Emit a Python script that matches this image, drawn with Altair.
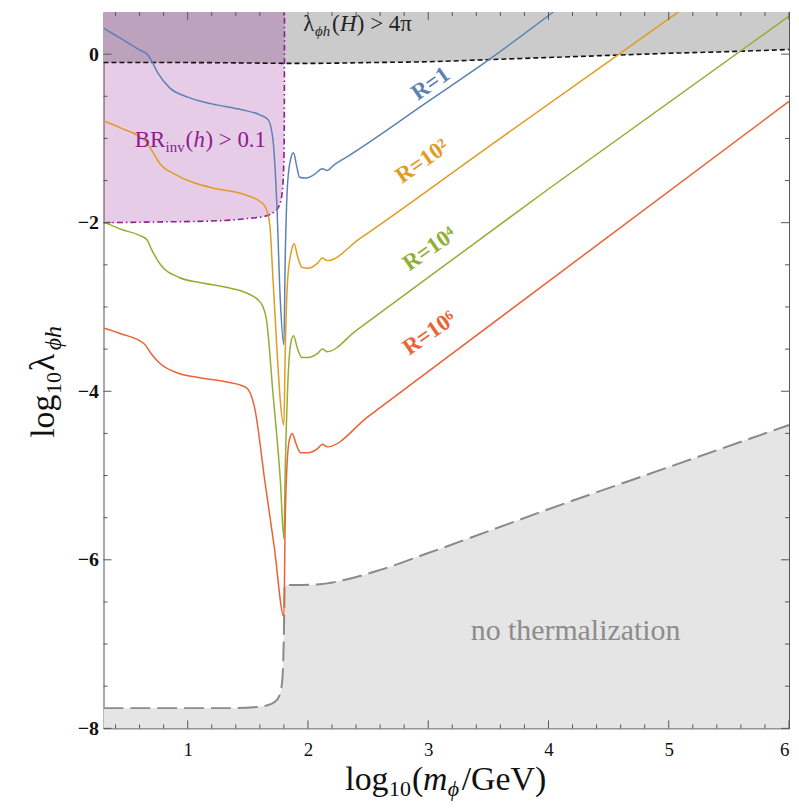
import altair as alt
import pandas as pd

# ---------------- data ----------------
blue_x = [0.30, 0.45, 0.60, 0.67, 0.70, 0.75, 0.85, 1.00, 1.20, 1.45, 1.60, 1.67, 1.71, 1.74, 1.77, 1.80,
          1.81, 1.83, 1.855, 1.88, 1.905, 1.93, 1.98, 2.05, 2.12, 2.16, 2.22, 2.30, 3.00, 3.52, 4.04]
blue_y = [0.31, 0.18, 0.05, -0.01, -0.08, -0.22, -0.40, -0.51, -0.59, -0.66, -0.72, -0.78, -1.03, -1.74, -2.92, -3.45,
          -2.50, -1.55, -1.25, -1.17, -1.32, -1.46, -1.47, -1.43, -1.36, -1.38, -1.31, -1.24, -0.56, -0.05, 0.50]

orange_x = [0.30, 0.45, 0.60, 0.66, 0.70, 0.77, 0.90, 1.04, 1.25, 1.46, 1.58, 1.64, 1.66, 1.685, 1.71, 1.80,
            1.81, 1.83, 1.86, 1.885, 1.91, 1.95, 2.00, 2.08, 2.12, 2.16, 2.43, 3.50, 5.08]
orange_y = [-0.79, -0.88, -0.98, -1.05, -1.14, -1.30, -1.43, -1.52, -1.60, -1.66, -1.73, -1.80, -1.86, -2.06, -2.69, -4.40,
            -3.60, -2.70, -2.35, -2.25, -2.38, -2.53, -2.54, -2.48, -2.42, -2.45, -2.19, -1.10, 0.50]

green_x = [0.30, 0.45, 0.60, 0.66, 0.70, 0.77, 0.93, 1.10, 1.33, 1.50, 1.58, 1.62, 1.655, 1.68, 1.70, 1.77, 1.80,
           1.81, 1.83, 1.855, 1.88, 1.91, 1.95, 2.00, 2.08, 2.12, 2.16, 2.40, 4.00, 6.00]
green_y = [-1.99, -2.08, -2.15, -2.20, -2.32, -2.49, -2.65, -2.71, -2.77, -2.84, -2.91, -2.98, -3.15, -3.50, -3.87, -5.05, -5.75,
           -5.00, -4.00, -3.45, -3.34, -3.48, -3.60, -3.60, -3.55, -3.50, -3.53, -3.28, -1.60, 0.45]

red_x = [0.30, 0.45, 0.60, 0.64, 0.70, 0.77, 0.93, 1.10, 1.33, 1.48, 1.52, 1.56, 1.64, 1.72, 1.80,
         1.81, 1.825, 1.845, 1.87, 1.90, 1.94, 2.00, 2.08, 2.12, 2.16, 2.50, 6.00]
red_y = [-3.25, -3.32, -3.40, -3.44, -3.56, -3.67, -3.79, -3.84, -3.89, -3.95, -4.02, -4.22, -5.05, -5.85, -6.67,
         -5.60, -4.90, -4.58, -4.50, -4.62, -4.73, -4.73, -4.68, -4.63, -4.66, -4.30, -0.56]

# perturbativity bound  lambda(H) > 4 pi
pert_x = [0.30, 1.00, 2.00, 2.50, 3.00, 3.50, 4.00, 4.50, 5.00, 5.50, 6.00]
pert_y = [-0.10, -0.10, -0.11, -0.10, -0.09, -0.065, -0.04, -0.015, 0.01, 0.03, 0.055]

# invisible Higgs width bound  BR_inv(h) > 0.1
brinv_x = [0.30, 0.80, 1.20, 1.50, 1.65, 1.72, 1.76, 1.785, 1.798, 1.803, 1.805]
brinv_y = [-2.00, -1.99, -1.98, -1.95, -1.92, -1.87, -1.80, -1.65, -1.35, -0.90, 0.50]

# thermalization bound
therm_x = [0.30, 1.00, 1.40, 1.55, 1.65, 1.72, 1.76, 1.785, 1.798, 1.803, 1.806, 1.90, 2.10, 2.30, 2.60, 3.00, 4.00, 5.00, 6.00]
therm_y = [-7.76, -7.76, -7.76, -7.75, -7.73, -7.69, -7.62, -7.45, -7.00, -6.60, -6.30, -6.30, -6.29, -6.24, -6.12, -5.92, -5.40, -4.90, -4.40]

series_names = ["R=1", "R=10^2", "R=10^4", "R=10^6"]
series_colors = ["#5e81b5", "#e19c24", "#8fb032", "#eb6235"]

x_major = [1, 2, 3, 4, 5, 6]
x_minor = [0.4, 0.6, 0.8, 1.2, 1.4, 1.6, 1.8, 2.2, 2.4, 2.6, 2.8, 3.2, 3.4, 3.6, 3.8,
           4.2, 4.4, 4.6, 4.8, 5.2, 5.4, 5.6, 5.8]
y_major = [-8, -6, -4, -2, 0]
y_minor = [-7.5, -7, -6.5, -5.5, -5, -4.5, -3.5, -3, -2.5, -1.5, -1, -0.5]

XMIN, XMAX, YMIN, YMAX = 0.3, 6.0, -8.0, 0.5

# ---------------- build tables ----------------
rows = []
for name, xs_, ys_ in zip(series_names, [blue_x, orange_x, green_x, red_x], [blue_y, orange_y, green_y, red_y]):
    for i, (a, b) in enumerate(zip(xs_, ys_)):
        rows.append({"series": name, "x": a, "y": b, "i": i})
curves = pd.DataFrame(rows)
pert = pd.DataFrame({"x": pert_x, "y": pert_y, "edge": [YMAX] * len(pert_x), "i": range(len(pert_x))})
brinv = pd.DataFrame({"x": brinv_x, "y": brinv_y, "edge": [YMAX] * len(brinv_x), "i": range(len(brinv_x))})
therm = pd.DataFrame({"x": therm_x, "y": therm_y, "edge": [YMIN] * len(therm_x), "i": range(len(therm_x))})

W, H = 689, 720
SERIF = "Liberation Serif"

xs = alt.Scale(domain=[XMIN, XMAX], nice=False, zero=False)
ys = alt.Scale(domain=[YMIN, YMAX], nice=False, zero=False)

X = alt.X("x:Q", scale=xs, axis=alt.Axis(values=x_major, format="d", title=None,
                                           labelFont=SERIF, labelFontSize=19, labelColor="#111",
                                           labelPadding=12, labelBaseline="top"))
Y = alt.Y("y:Q", scale=ys, axis=alt.Axis(values=y_major, format="d", title=None,
                                           labelFont=SERIF, labelFontSize=20, labelFontWeight="bold",
                                           labelColor="#111", labelPadding=5))

XP = alt.X("x:Q", scale=xs)
YP = alt.Y("y:Q", scale=ys)

pert_area = alt.Chart(pert).mark_area(color="#cbcbcb", opacity=1, interpolate="monotone", clip=True).encode(
    x=X, y=Y, y2=alt.Y2("edge:Q"))
therm_area = alt.Chart(therm).mark_area(color="#e5e5e5", opacity=1, interpolate="monotone", clip=True).encode(
    x=XP, y=YP, y2=alt.Y2("edge:Q"))
brinv_area = alt.Chart(brinv).mark_area(color="#800080", opacity=0.2, interpolate="monotone", clip=True).encode(
    x=XP, y=YP, y2=alt.Y2("edge:Q"))

pert_line = alt.Chart(pert).mark_line(color="#111", strokeWidth=1.6, strokeDash=[5, 3],
                                      interpolate="monotone", clip=True).encode(x=XP, y=YP, order="i:Q")
therm_line = alt.Chart(therm).mark_line(color="#8a8a8a", strokeWidth=2, strokeDash=[20, 7],
                                        interpolate="monotone", clip=True).encode(x=XP, y=YP, order="i:Q")
brinv_line = alt.Chart(brinv).mark_line(color="#8e1a8e", strokeWidth=1.6, strokeDash=[6, 3, 1.5, 3],
                                        interpolate="monotone", clip=True).encode(x=XP, y=YP, order="i:Q")

curve_lines = alt.Chart(curves).mark_line(strokeWidth=1.5, interpolate="monotone", clip=True).encode(
    x=XP, y=YP,
    color=alt.Color("series:N", scale=alt.Scale(domain=series_names, range=series_colors), legend=None),
    order="i:Q")

# inward frame ticks
def xticks(vals, length):
    d = pd.DataFrame({"v": vals})
    bot = alt.Chart(d).mark_rule(color="#555", strokeWidth=1).encode(
        x=alt.X("v:Q", scale=xs), y=alt.value(H), y2=alt.value(H - length))
    top = alt.Chart(d).mark_rule(color="#555", strokeWidth=1).encode(
        x=alt.X("v:Q", scale=xs), y=alt.value(0), y2=alt.value(length))
    return bot + top

def yticks(vals, length):
    d = pd.DataFrame({"v": vals})
    left = alt.Chart(d).mark_rule(color="#555", strokeWidth=1).encode(
        y=alt.Y("v:Q", scale=ys), x=alt.value(0), x2=alt.value(length))
    right = alt.Chart(d).mark_rule(color="#555", strokeWidth=1).encode(
        y=alt.Y("v:Q", scale=ys), x=alt.value(W), x2=alt.value(W - length))
    return left + right

ticks = xticks(x_major, 8) + xticks(x_minor, 4) + yticks(y_major, 8) + yticks(y_minor, 4)

# text pieces anchored at a data point, offset in pixels along the text direction
def pieces(x, y, parts, color, angle=0):
    layers = []
    for text, size, dx, dy, style, weight in parts:
        d = pd.DataFrame({"x": [x], "y": [y], "t": [text]})
        kw = dict(font=SERIF, fontSize=size, dx=dx, dy=dy, color=color, align="left",
                  baseline="alphabetic", fontStyle=style, fontWeight=weight)
        if angle:
            kw["angle"] = angle
        layers.append(alt.Chart(d).mark_text(**kw).encode(x=XP, y=YP, text="t:N"))
    return alt.layer(*layers)

# same, but anchored at a pixel position (axis titles outside the frame)
def title_pieces(px, py, parts, angle=0):
    layers = []
    for text, size, dx, dy, style, weight in parts:
        d = pd.DataFrame({"t": [text]})
        kw = dict(font=SERIF, fontSize=size, dx=dx, dy=dy, color="#111", align="left",
                  baseline="alphabetic", fontStyle=style, fontWeight=weight)
        if angle:
            kw["angle"] = angle
        layers.append(alt.Chart(d).mark_text(**kw).encode(x=alt.value(px), y=alt.value(py), text="t:N"))
    return alt.layer(*layers)

N, I, B = "normal", "italic", "bold"

pert_label = pieces(1.96, 0.27, [
    ("λ", 23, 0, 0, N, N), ("ϕh", 15, 12, 5, I, N), ("(", 23, 29, 0, N, N),
    ("H", 23, 37, 0, I, N), (") > 4π", 23, 54, 0, N, N)], "#222")
brinv_label = pieces(0.56, -1.10, [
    ("BR", 23, 0, 0, N, N), ("inv", 15, 31, 5, N, N), ("(", 23, 51, 0, N, N),
    ("h", 23, 59, 0, I, N), (") > 0.1", 23, 71, 0, N, N)], "#8e1a8e")

def rlabel(x, y, text, color):
    d = pd.DataFrame({"x": [x], "y": [y], "t": [text]})
    return alt.Chart(d).mark_text(font=SERIF, fontSize=23, fontWeight="bold", color=color, angle=325,
                                  align="center", baseline="middle").encode(x=XP, y=YP, text="t:N")

r_labels = (rlabel(3.02, -0.35, "R=1", series_colors[0]) + rlabel(2.95, -1.27, "R=10²", series_colors[1])
            + rlabel(3.01, -2.31, "R=10⁴", series_colors[2]) + rlabel(3.01, -3.31, "R=10⁶", series_colors[3]))

therm_label = alt.Chart(pd.DataFrame({"x": [4.225], "y": [-6.85], "t": ["no thermalization"]})).mark_text(
    font=SERIF, fontSize=30, color="#8c8c8c", align="center", baseline="middle").encode(x=XP, y=YP, text="t:N")

x_title = title_pieces(243, H + 62, [
    ("log", 34, 0, 0, N, N), ("10", 22, 44, 6, N, N), ("(", 34, 67, 0, N, N),
    ("m", 34, 78, 0, I, N), ("ϕ", 22, 103, 6, I, N), ("/GeV)", 34, 117, 0, N, N)])
y_title = title_pieces(-50, 428, [
    ("log", 34, 0, 0, N, N), ("10", 22, 44, 7, N, N), ("λ", 36, 67, 0, N, N),
    ("ϕh", 24, 88, 7, I, N)], angle=270)

chart = alt.layer(
    pert_area, therm_area, brinv_area, pert_line, therm_line, brinv_line, curve_lines, ticks,
    pert_label, brinv_label, r_labels, therm_label, x_title, y_title
).properties(
    width=W, height=H,
    autosize=alt.AutoSizeParams(type="none"),
    padding={"left": 96, "top": 2, "right": 2, "bottom": 74},
).configure_view(
    stroke="#555", strokeWidth=1
).configure_axis(
    ticks=False, domain=False, grid=False, labelFont=SERIF
)

chart.save("out.html", embed_options={"renderer": "svg", "actions": False})
